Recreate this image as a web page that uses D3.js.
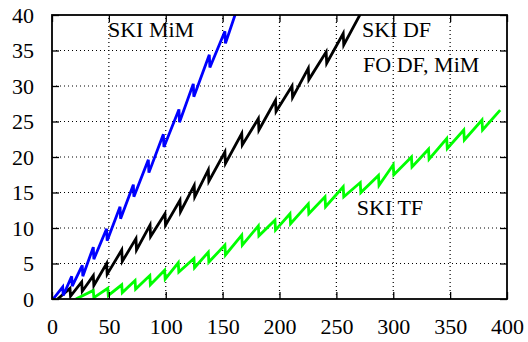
<!DOCTYPE html>
<html><head><meta charset="utf-8">
<script src="https://cdn.jsdelivr.net/npm/d3@7"></script>
<style>body{margin:0;background:#fff}svg{display:block}</style>
</head><body>
<svg id="c" width="528" height="342"></svg>
<script>
const xTicks = [0,50,100,150,200,250,300,350,400];
const yTicks = [0,5,10,15,20,25,30,35,40];
const skiMiM = [[1,0],[9.4,1.7],[9.9,0.5],[17.3,3.2],[17.8,1.8],[26.6,4.75],[27.1,3.2],[36.3,7.3],[36.8,5.6],[48,9.9],[48.5,8.2],[59.8,13],[60.3,11.3],[71.5,16.1],[72,14.4],[84.7,19.6],[85.2,17.8],[97.9,23.2],[98.4,21.4],[111.6,26.7],[112.1,24.9],[124.2,30.3],[124.7,28.5],[138.3,34.4],[138.8,32.6],[152,37.7],[152.5,36.0],[163,41]];
const skiDF = [[5,0],[15.8,1.5],[16.3,0.4],[26.1,2.4],[26.6,1.1],[36.3,3.3],[36.8,1.9],[48,5.0],[48.5,3.5],[61.3,6.9],[61.8,5.3],[73.8,8.5],[74.3,6.9],[86.2,10.4],[86.7,8.8],[99.3,12.0],[99.8,10.4],[112.5,13.9],[113,12.3],[125,16],[125.5,14.4],[137.4,18.2],[137.9,16.6],[152,20.7],[152.5,19.1],[166.8,23.3],[167.3,21.7],[181.4,25.4],[181.9,23.8],[196.5,28],[197,26.4],[211,30],[211.5,28.4],[225.3,32.5],[225.8,30.9],[241,34.8],[241.5,33.2],[256,37.4],[256.5,35.8],[274,41]];
const skiTF = [[21,0],[36.3,1.2],[36.8,0.2],[49,1.5],[49.5,0.5],[61.3,2.0],[61.8,0.9],[73,2.6],[73.5,1.4],[86,3.3],[86.5,2.0],[99,4.05],[99.5,2.8],[111,5.1],[111.5,3.8],[124.8,5.7],[125.3,4.4],[137.4,6.6],[137.9,5.2],[152,7.6],[152.5,6.2],[166.8,9.0],[167.3,7.6],[181.4,10.3],[181.9,8.9],[196,11.1],[196.5,9.7],[209.2,12.0],[209.7,10.6],[225.3,13.4],[225.8,12.0],[240,14.4],[240.5,13.0],[256,15.8],[256.5,14.4],[271,16.4],[271.5,15.0],[287,17.4],[287.5,16.0],[300,18.9],[300.5,17.5],[316,20.0],[316.5,18.6],[331,21.1],[331.5,19.7],[347,22.6],[347.5,21.2],[362,23.8],[362.5,22.4],[378,25.2],[378.5,23.8],[394,26.6]];
const labels = [
  {text:"SKI MiM", x:49.2, y:36.9},
  {text:"SKI DF", x:272.5, y:36.9},
  {text:"FO DF, MiM", x:273.5, y:32.0},
  {text:"SKI TF", x:268, y:11.8}
];

const W=528,H=342, m={l:52,t:15,r:21,b:43};
const svg=d3.select("#c");
const x=d3.scaleLinear().domain([0,400]).range([m.l,W-m.r]);
const y=d3.scaleLinear().domain([0,40]).range([H-m.b,m.t]);
const font="Liberation Serif";

const g=svg.append("g");
g.selectAll("line.gx").data(xTicks.slice(1,-1)).join("line")
 .attr("x1",d=>x(d)).attr("x2",d=>x(d)).attr("y1",y(0)).attr("y2",y(40))
 .attr("stroke","#000").attr("stroke-width",1.2).attr("stroke-dasharray","1,3");
g.selectAll("line.gy").data(yTicks.slice(1,-1)).join("line")
 .attr("y1",d=>y(d)).attr("y2",d=>y(d)).attr("x1",x(0)).attr("x2",x(400))
 .attr("stroke","#000").attr("stroke-width",1.2).attr("stroke-dasharray","1,3");

svg.append("clipPath").attr("id","clip").append("rect")
 .attr("x",x(0)).attr("y",y(40)).attr("width",x(400)-x(0)).attr("height",y(0)-y(40));

const line=d3.line().x(d=>x(d[0])).y(d=>y(d[1]));
const series=[[skiTF,"#00ff00"],[skiDF,"#000000"],[skiMiM,"#0000ff"]];
svg.append("g").attr("clip-path","url(#clip)").selectAll("path").data(series).join("path")
 .attr("d",d=>line(d[0])).attr("fill","none").attr("stroke",d=>d[1])
 .attr("stroke-width",2.8).attr("stroke-linejoin","miter");

function style(sel){
  sel.attr("font-family",font).attr("font-size",22);
  sel.select(".domain").remove();
  sel.selectAll(".tick line").attr("stroke","#000").attr("stroke-width",1.3);
  sel.selectAll("text").attr("font-family",font).attr("font-size",22).attr("fill","#000");
}
const ax=svg.append("g").attr("transform",`translate(0,${y(0)})`)
 .call(d3.axisBottom(x).tickValues(xTicks).tickSize(-7).tickFormat(d3.format("d")));
style(ax); ax.selectAll("text").attr("dy",null).attr("y",35);
const axt=svg.append("g").attr("transform",`translate(0,${y(40)})`)
 .call(d3.axisTop(x).tickValues(xTicks).tickSize(-7).tickFormat(""));
style(axt);
const ay=svg.append("g").attr("transform",`translate(${x(0)},0)`)
 .call(d3.axisLeft(y).tickValues(yTicks).tickSize(-7).tickFormat(d3.format("d")));
style(ay); ay.selectAll("text").attr("dy",null).attr("y",7).attr("x",-18);
const ayr=svg.append("g").attr("transform",`translate(${x(400)},0)`)
 .call(d3.axisRight(y).tickValues(yTicks).tickSize(-7).tickFormat(""));
style(ayr);

svg.append("rect").attr("x",x(0)).attr("y",y(40)).attr("width",x(400)-x(0)).attr("height",y(0)-y(40))
 .attr("fill","none").attr("stroke","#000").attr("stroke-width",1.8);

svg.append("g").selectAll("text").data(labels).join("text")
 .attr("x",d=>x(d.x)).attr("y",d=>y(d.y)).text(d=>d.text)
 .attr("font-family",font).attr("font-size",22).attr("fill","#000");
</script>
</body></html>
